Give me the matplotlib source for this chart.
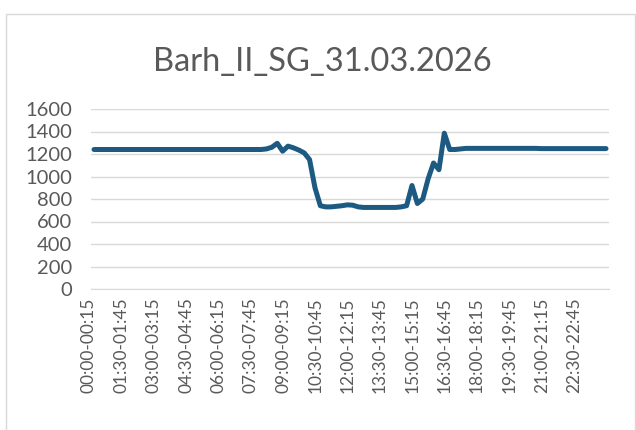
import matplotlib
matplotlib.use("Agg")
import matplotlib.pyplot as plt
from matplotlib.patches import Rectangle
import matplotlib.transforms as mtransforms

plt.rcParams['font.family'] = ['Lato', 'DejaVu Sans']

# 15-minute time blocks for the day
blocks = [f"{(i*15)//60:02d}:{(i*15)%60:02d}-{((i+1)*15)//60:02d}:{((i+1)*15)%60:02d}"
          for i in range(96)]

# schedule (MW)
sg_values = (
    [1240] * 32
    + [1245, 1260, 1295, 1225, 1270, 1255, 1235, 1210, 1150, 900,
       740, 730, 730, 735, 740, 748, 745, 730]
    + [725] * 7
    + [730, 740, 920, 760, 800, 980, 1120, 1060, 1385, 1240,
       1240, 1245]
    + [1250] * 14
    + [1248] * 13
)

title = "Barh_II_SG_31.03.2026"
yticks = [0, 200, 400, 600, 800, 1000, 1200, 1400, 1600]

txt = '#595959'
grid = '#d9d9d9'
line_col = '#1d5a82'

fig = plt.figure(figsize=(6.36, 4.30), dpi=100)
fig.patches.append(Rectangle((6/636, -0.01), 629/636, (430-14)/430 + 0.01,
                             transform=fig.transFigure, fill=False,
                             edgecolor='#d9d9d9', linewidth=1))

ax = fig.add_axes([91.3/636, 141/430, 517.4/636, 180/430])
x = list(range(len(sg_values)))
ax.plot(x, sg_values, color=line_col, linewidth=3.6, solid_joinstyle='round',
        solid_capstyle='round')

ax.set_xlim(-0.5, 95.5)
ax.set_ylim(0, 1600)
ax.set_yticks(yticks)
ax.set_yticklabels([str(v) for v in yticks], fontsize=14.5, color=txt)
ax.set_xticks(x[::6])
ax.set_xticklabels(blocks[::6], rotation=90, fontsize=12.5, color=txt)

ax.grid(axis='y', color=grid, linewidth=1)
ax.set_axisbelow(True)
for s in ['top', 'right', 'left']:
    ax.spines[s].set_visible(False)
ax.spines['bottom'].set_color(grid)
ax.tick_params(axis='both', length=0)
ax.tick_params(axis='y', pad=14)
ax.tick_params(axis='x', pad=6)

offset = mtransforms.ScaledTranslation(-5/100, 0, fig.dpi_scale_trans)
for lab in ax.get_xticklabels():
    lab.set_transform(lab.get_transform() + offset)

fig.text(322/636, (430-71)/430, title, ha='center', va='baseline',
         fontsize=23.5, color=txt)

fig.savefig('out.png', dpi=100)
